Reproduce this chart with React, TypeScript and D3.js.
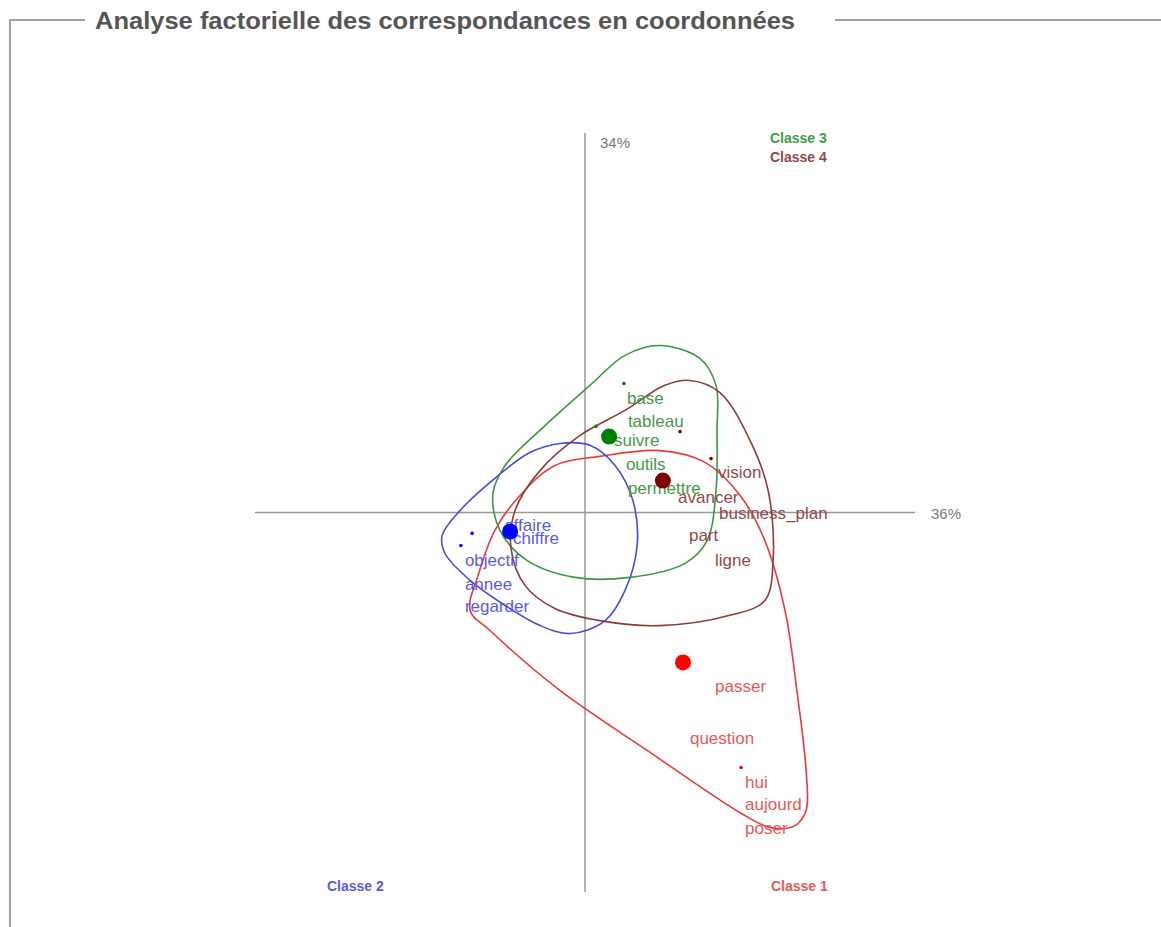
import * as d3 from 'd3';

// factor coordinates (axis 1 = 36%, axis 2 = 34%)
const inertia = ['36%', '34%'];
const classNames = ['Classe 1', 'Classe 2', 'Classe 3', 'Classe 4'];
const classColors = ['#ff0000', '#0000ff', '#008000', '#800000'];
const lineColors = ['#e83a3a', '#4a4ae0', '#3f9640', '#8e3a3a'];
const textColors = ['#e25a5a', '#5a5ae4', '#46984a', '#954848'];

const centroids: [number, number][] = [
  [0.297, -0.395],
  [-0.227, -0.05],
  [0.073, 0.2],
  [0.236, 0.084],
];

const hull1: [number, number][] = [
  [0.045, 0.148], [0.227, 0.163], [0.364, 0.132], [0.47, 0.045], [0.545, -0.074],
  [0.606, -0.258], [0.642, -0.469], [0.67, -0.68], [0.67, -0.785], [0.636, -0.825],
  [0.561, -0.83], [0.47, -0.791], [0.197, -0.632], [-0.076, -0.469], [-0.288, -0.311],
  [-0.348, -0.258], [-0.324, -0.166], [-0.273, -0.047], [-0.197, 0.045], [-0.091, 0.124],
];
const hull2: [number, number][] = [
  [-0.076, 0.182], [0.015, 0.177], [0.091, 0.124], [0.145, 0.032], [0.158, -0.087],
  [0.121, -0.206], [0.061, -0.285], [-0.045, -0.319], [-0.136, -0.298], [-0.242, -0.245],
  [-0.348, -0.179], [-0.424, -0.108], [-0.433, -0.061], [-0.379, 0.005], [-0.273, 0.09],
  [-0.167, 0.158],
];
const hull3: [number, number][] = [
  [0.227, 0.44], [0.348, 0.406], [0.397, 0.335], [0.4, 0.216], [0.397, 0.058],
  [0.37, -0.074], [0.303, -0.134], [0.136, -0.171], [-0.03, -0.171], [-0.176, -0.126],
  [-0.258, -0.047], [-0.279, 0.05], [-0.242, 0.124], [-0.121, 0.229], [0.015, 0.335],
  [0.121, 0.414],
];
const hull4: [number, number][] = [
  [0.318, 0.348], [0.409, 0.316], [0.5, 0.19], [0.555, 0.058], [0.57, -0.126],
  [0.545, -0.232], [0.439, -0.271], [0.227, -0.298], [0.045, -0.285], [-0.091, -0.253],
  [-0.182, -0.192], [-0.224, -0.095], [-0.212, 0.005], [-0.136, 0.111], [-0.015, 0.203],
  [0.121, 0.269], [0.242, 0.335],
];
const hulls = [hull1, hull2, hull3, hull4];

// words: [label, x, y] (label start / baseline)
const words1: [string, number, number][] = [
  ['passer', 0.394, -0.472],
  ['question', 0.318, -0.611],
  ['hui', 0.485, -0.725],
  ['aujourd', 0.485, -0.785],
  ['poser', 0.485, -0.846],
];
const words2: [string, number, number][] = [
  ['affaire', -0.245, -0.05],
  ['chiffre', -0.218, -0.082],
  ['objectif', -0.364, -0.142],
  ['annee', -0.364, -0.203],
  ['regarder', -0.364, -0.261],
];
const words3: [string, number, number][] = [
  ['base', 0.127, 0.287],
  ['tableau', 0.13, 0.224],
  ['suivre', 0.088, 0.174],
  ['outils', 0.124, 0.111],
  ['permettre', 0.13, 0.05],
];
const words4: [string, number, number][] = [
  ['vision', 0.403, 0.09],
  ['avancer', 0.282, 0.026],
  ['business_plan', 0.406, -0.016],
  ['part', 0.315, -0.074],
  ['ligne', 0.394, -0.14],
];
const words = [words1, words2, words3, words4];

const dots1: [number, number][] = [[0.473, -0.672]];
const dots2: [number, number][] = [[-0.342, -0.055], [-0.376, -0.087]];
const dots3: [number, number][] = [[0.118, 0.34], [0.033, 0.227]];
const dots4: [number, number][] = [[0.288, 0.213], [0.382, 0.142]];
const dots = [dots1, dots2, dots3, dots4];

const W = 1161;
const H = 927;
const font = '"Liberation Sans", Arial, Helvetica, sans-serif';

export default function App() {
  const x = d3.scaleLinear().domain([-1, 1]).range([255, 915]);
  const y = d3.scaleLinear().domain([-1, 1]).range([892, 133]);

  const line = d3.line<[number, number]>()
    .x(d => x(d[0]))
    .y(d => y(d[1]))
    .curve(d3.curveCatmullRomClosed.alpha(0.5));

  return (
    <svg width={W} height={H} style={{ position: 'absolute', left: 0, top: 0, background: '#fff' }}>
      {/* fieldset frame */}
      <g stroke="#a0a0a0" strokeWidth={2} fill="none">
        <path d={`M10,${H} L10,20 L85,20`} />
        <path d={`M835,20 L${W},20`} />
      </g>
      <text x={95} y={29} fontFamily={font} fontWeight="bold" fontSize={23} fill="#555"
        textLength={700} lengthAdjust="spacingAndGlyphs">
        Analyse factorielle des correspondances en coordonnées
      </text>

      {/* axes */}
      <g stroke="#9a9a9a" strokeWidth={1.5}>
        <line x1={x(-1)} x2={x(1)} y1={y(0)} y2={y(0)} />
        <line x1={x(0)} x2={x(0)} y1={y(1)} y2={y(-1)} />
      </g>
      <text x={x(1) + 16} y={y(0) + 6} fontFamily={font} fontSize={15} fill="#7a7a7a">{inertia[0]}</text>
      <text x={x(0) + 15} y={y(1) + 15} fontFamily={font} fontSize={15} fill="#7a7a7a">{inertia[1]}</text>

      {/* contours */}
      {hulls.map((h, i) => (
        <path key={'h' + i} d={line(h) || ''} fill="none" stroke={lineColors[i]} strokeWidth={1.6} />
      ))}

      {/* words */}
      {words.map((ws, i) => ws.map(([w, wx, wy]) => (
        <text key={w} x={x(wx)} y={y(wy)} fontFamily={font} fontSize={17} fill={textColors[i]}>{w}</text>
      )))}

      {dots.map((ds, i) => ds.map((d, j) => (
        <circle key={'d' + i + j} cx={x(d[0])} cy={y(d[1])} r={1.8} fill={classColors[i]} />
      )))}

      {centroids.map((c, i) => (
        <circle key={'c' + i} cx={x(c[0])} cy={y(c[1])} r={8} fill={classColors[i]} />
      ))}

      {/* class legends in the corners */}
      <g fontFamily={font} fontWeight="bold" fontSize={14}>
        <text x={770} y={143} fill={textColors[2]}>{classNames[2]}</text>
        <text x={770} y={162} fill={textColors[3]}>{classNames[3]}</text>
        <text x={327} y={891} fill={textColors[1]}>{classNames[1]}</text>
        <text x={771} y={891} fill={textColors[0]}>{classNames[0]}</text>
      </g>
    </svg>
  );
}
